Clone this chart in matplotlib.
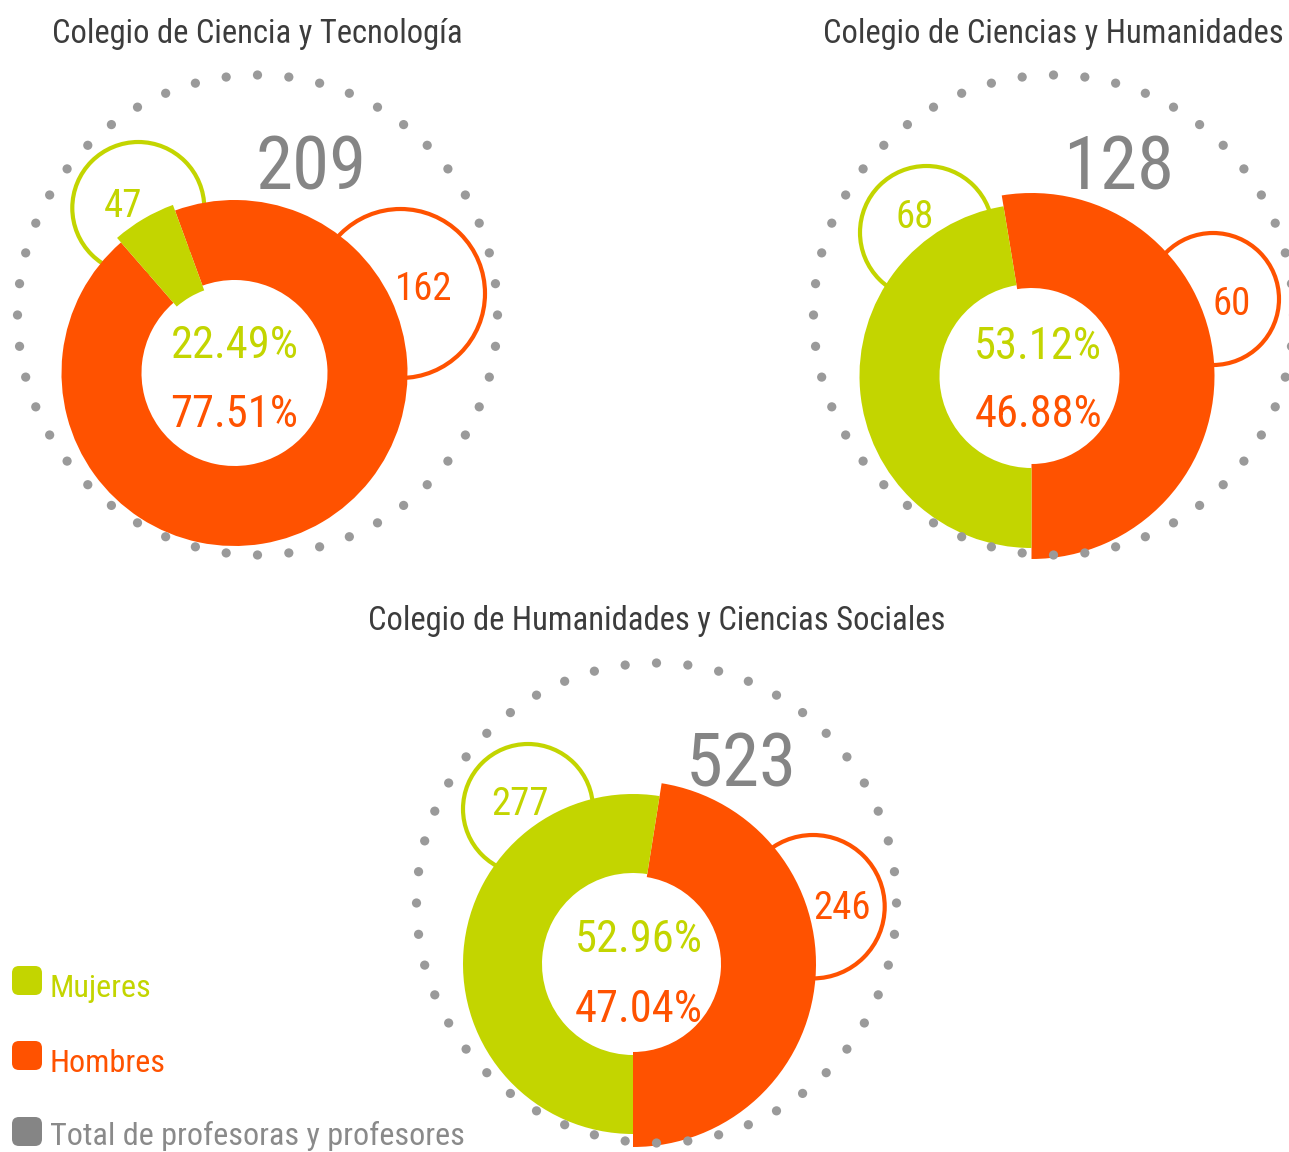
import math
import matplotlib
matplotlib.use("Agg")
import matplotlib.pyplot as plt
from matplotlib.patches import Wedge, Circle, FancyBboxPatch
from matplotlib import font_manager

# data
colegios = ["Colegio de Ciencia y Tecnología",
            "Colegio de Ciencias y Humanidades",
            "Colegio de Humanidades y Ciencias Sociales"]
mujeres = [47, 68, 277]
hombres = [162, 60, 246]
totales = [209, 128, 523]
pct_mujeres = [22.49, 53.12, 52.96]
pct_hombres = [77.51, 46.88, 47.04]
# share of the ring that is drawn orange in the picture, and where it starts (deg)
arco_hombres = [0.942, 0.526, 0.475]
inicio_hombres = [131, -90, -90]
leyenda = ["Mujeres", "Hombres", "Total de profesoras y profesores"]

VERDE = "#c3d500"
NARANJA = "#ff5200"
GRIS = "#858585"
PUNTOS = "#9a9a9a"
TITULO = "#3c3c3c"


def pick_font():
    fl = font_manager.fontManager.ttflist
    names = {f.name for f in fl}
    for n in ["Roboto Condensed", "Liberation Sans Narrow", "Open Sans Condensed"]:
        if n in names:
            return n, "normal"
    if any(f.name == "DejaVu Sans" and f.stretch == "condensed" for f in fl):
        return "DejaVu Sans", "condensed"
    return "Liberation Sans", "normal"


FONT, STRETCH = pick_font()
plt.rcParams["font.family"] = [FONT, "DejaVu Sans"]
plt.rcParams["font.stretch"] = STRETCH

# layout in pixels (origin top-left)
centros = [(234.5, 373), (1031.5, 376), (633, 964)]
anillos = [(257.5, 315), (1053.5, 315), (656.5, 903)]
titulos_y = [43, 43, 630]
rad_h = [(93, 173), (88, 183), (88, 183)]
rad_m = [(88, 179), (92, 172), (91, 170)]
circ_m = [(138.3, 208, 66), (926.5, 232.5, 66.5), (528, 809, 65)]
circ_h = [(400.5, 293.5, 84.5), (1213, 299, 66), (813, 906.7, 71.7)]
lbl_m = [(123.3, 216.7), (914.5, 228.3), (519.7, 815)]
lbl_h = [(423.3, 300), (1231.7, 315), (842, 919.3)]
lbl_t = [(310.8, 189.3), (1118.3, 189.3), (740.8, 786.7)]
lbl_pm = [(234.5, 358.3), (1038.3, 359.3), (639, 951.7)]
lbl_ph = [(234.5, 426.7), (1038.3, 426.7), (639, 1021.7)]

fig = plt.figure(figsize=(12.89, 11.52), dpi=100)
ax = fig.add_axes([0, 0, 1, 1])
ax.set_xlim(0, 1289)
ax.set_ylim(1152, 0)
ax.axis("off")

for i in range(3):
    cx, cy = centros[i]
    # outline bubbles behind the ring
    x, y, r = circ_m[i]
    ax.add_patch(Circle((x, y), r, fill=False, ec=VERDE, lw=3, zorder=1))
    x, y, r = circ_h[i]
    ax.add_patch(Circle((x, y), r, fill=False, ec=NARANJA, lw=3, zorder=1))

    # ring: y axis is inverted, so visual angle a -> data angle -a
    a0 = inicio_hombres[i]
    a1 = a0 + 360 * arco_hombres[i]
    ri, ro = rad_h[i]
    ax.add_patch(Wedge((cx, cy), ro, -a1, -a0, width=ro - ri, fc=NARANJA, ec="none", zorder=2))
    ri, ro = rad_m[i]
    ax.add_patch(Wedge((cx, cy), ro, -(a0 + 360), -a1, width=ro - ri, fc=VERDE, ec="none", zorder=2))

    # dotted ring
    rx, ry = anillos[i]
    for k in range(48):
        t = math.radians(90 + 7.5 * k)
        ax.add_patch(Circle((rx + 240 * math.cos(t), ry - 240 * math.sin(t)), 4.6,
                            fc=PUNTOS, ec="none", zorder=3))

    ax.text(rx, titulos_y[i], colegios[i], ha="center", va="baseline",
            fontsize=23.5, color=TITULO, zorder=4)
    ax.text(*lbl_m[i], str(mujeres[i]), ha="center", va="baseline",
            fontsize=28, color=VERDE, zorder=4)
    ax.text(*lbl_h[i], str(hombres[i]), ha="center", va="baseline",
            fontsize=28, color=NARANJA, zorder=4)
    ax.text(*lbl_t[i], str(totales[i]), ha="center", va="baseline",
            fontsize=54, color=GRIS, zorder=4)
    ax.text(*lbl_pm[i], f"{pct_mujeres[i]:.2f}%", ha="center", va="baseline",
            fontsize=32, color=VERDE, zorder=4)
    ax.text(*lbl_ph[i], f"{pct_hombres[i]:.2f}%", ha="center", va="baseline",
            fontsize=32, color=NARANJA, zorder=4)

# legend
leg_y = [(966, 996.7), (1041, 1071.7), (1117, 1145)]
for txt, col, (top, base) in zip(leyenda, [VERDE, NARANJA, GRIS], leg_y):
    ax.add_patch(FancyBboxPatch((12 + 7, top + 7), 30 - 14, 29 - 14,
                                boxstyle="round,pad=7", fc=col, ec="none"))
    ax.text(50, base, txt, ha="left", va="baseline", fontsize=23.2,
            color=col if col != GRIS else "#8a8a8a")

fig.savefig("out.png", dpi=100)
